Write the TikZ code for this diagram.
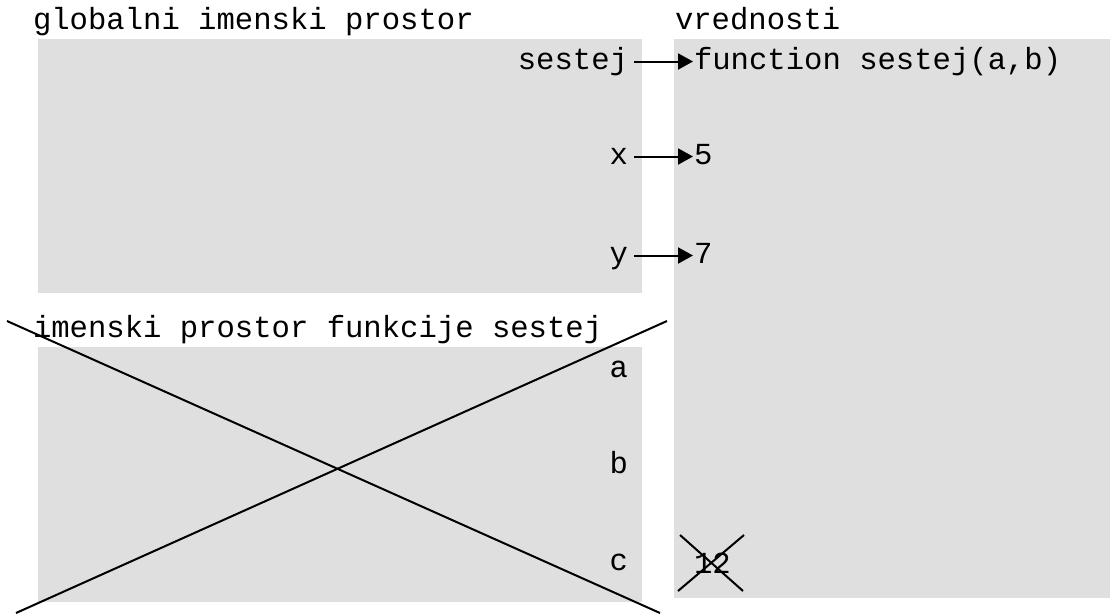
\documentclass[tikz,border=0pt]{standalone}
\usepackage{fontspec}
\setmainfont{Liberation Mono}
\usetikzlibrary{arrows.meta}
\definecolor{boxgray}{RGB}{223,223,223}
\begin{document}
\begin{tikzpicture}[x=1pt,y=-1pt,
  every node/.style={inner sep=0pt,outer sep=0pt,font=\fontsize{30.6pt}{36pt}\selectfont},
  area/.style={fill=boxgray,draw=none},
  row/.style={text height=22pt,text depth=7pt},
  lbl/.style={row,anchor=base east},
  val/.style={row,anchor=base west},
  title/.style={anchor=base west},
  ptr/.style={line width=2pt,-{Triangle[length=15pt,width=16pt]},shorten <=6pt,shorten >=1pt},
  cross/.style={line width=2pt}]
\useasboundingbox (0,0) rectangle (1110,614);
% areas
\fill[area] (38,39) rectangle (642,293);
\fill[area] (38,347) rectangle (642,602);
\fill[area] (674,39) rectangle (1110,598);
% titles
\node[title] (tglob) at (33,29) {globalni imenski prostor};
\node[title] (tval) at (675,29) {vrednosti};
\node[title] (tfun) at (33,337) {imenski prostor funkcije sestej};
% global names
\node[lbl] (nsestej) at (628,69) {sestej};
\node[lbl] (nx) at (628,164) {x};
\node[lbl] (ny) at (628,263) {y};
% values
\node[val] (vfun) at (694,69) {function sestej(a,b)};
\node[val] (v5) at (694,164) {5};
\node[val] (v7) at (694,263) {7};
\node[val] (v12) at (694,573) {12};
% local names
\node[lbl] (na) at (628,377) {a};
\node[lbl] (nb) at (628,473) {b};
\node[lbl] (nc) at (628,570) {c};
% pointers
\draw[ptr] (nsestej) -- (vfun);
\draw[ptr] (nx) -- (v5);
\draw[ptr] (ny) -- (v7);
% big cross over function namespace
\coordinate (c1) at (7,321);
\coordinate (c2) at (660,613);
\coordinate (c3) at (16,613);
\coordinate (c4) at (667,321);
\draw[cross] (c1) -- (c2);
\draw[cross] (c3) -- (c4);
% small cross over 12
\coordinate (s1) at (680,535);
\coordinate (s2) at (743,591);
\coordinate (s3) at (678,591);
\coordinate (s4) at (744,535);
\draw[cross] (s1) -- (s2);
\draw[cross] (s3) -- (s4);
\end{tikzpicture}
\end{document}
